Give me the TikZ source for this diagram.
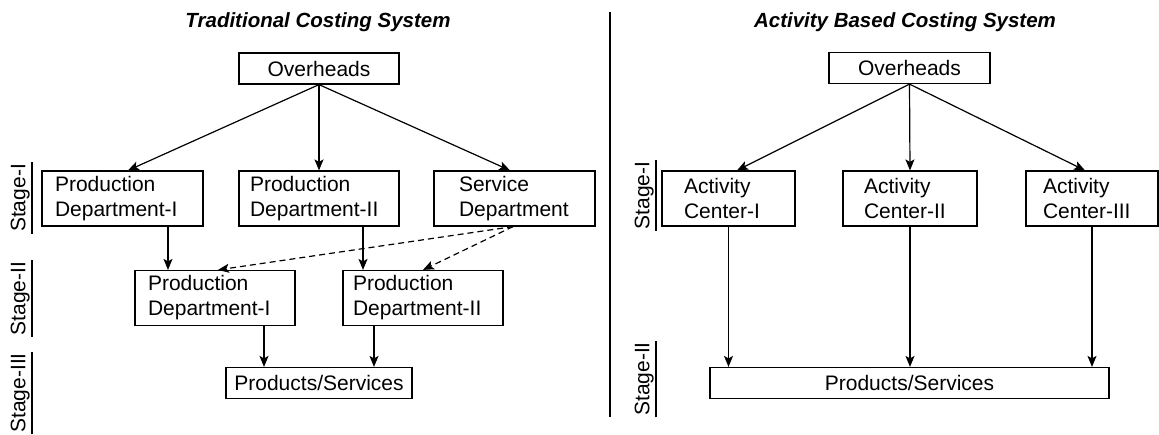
\documentclass[tikz,border=0pt]{standalone}
\usepackage{fontspec}
\setmainfont{Liberation Sans}
\usepackage{tikz}
\usetikzlibrary{arrows.meta}

\tikzset{
    box/.style 2 args={draw, line width=1.2pt, align=left, text width=#1, inner xsep=#2,
        inner ysep=3pt, minimum height=55pt, font=\fontsize{21}{25}\selectfont},
    onebox/.style={draw, line width=1.2pt, inner sep=0pt, minimum width=#1,
        minimum height=31pt, font=\fontsize{21}{25}\selectfont},
    arr/.style={line width=1.2pt, -{Stealth[length=11pt,width=9pt,inset=2.5pt]}},
    stagelbl/.style={rotate=90, anchor=south, inner xsep=1.5pt, inner ysep=2pt,
        font=\fontsize{21}{25}\selectfont},
    heading/.style={font=\fontsize{20.5}{24}\selectfont\bfseries\itshape}
}

\begin{document}
\begin{tikzpicture}[x=1pt, y=-1pt]

    \useasboundingbox (0,0) rectangle (1159,434);

    % Titles and divider
    \node[heading] (tl) at (318,22) {Traditional Costing System};
    \node[heading] (tr) at (905,22) {Activity Based Costing System};
    \draw[line width=1.2pt] (610,12) -- (610,417);

    % Traditional costing system
    \node[onebox=160pt] (ovL) at (319,68.5) {Overheads};
    \node[box={135pt}{13pt}] (pdA) at (122.5,198.5) {Production\\Department-I};
    \node[box={138pt}{11pt}] (pdB) at (319,198.5) {Production\\Department-II};
    \node[box={111pt}{25pt}] (svc) at (514.5,198.5) {Service\\Department};
    \node[box={134pt}{13pt}] (pdC) at (215,298) {Production\\Department-I};
    \node[box={140pt}{10pt}] (pdD) at (423,298) {Production\\Department-II};
    \node[onebox=186pt] (prL) at (319,383) {Products/Services};

    \draw[arr] (ovL.south) -- ([xshift=5.5pt]pdA.north);
    \draw[arr] (ovL.south) -- (pdB.north);
    \draw[arr] (ovL.south) -- ([xshift=-4.5pt]svc.north);
    \draw[arr] ([xshift=45.5pt]pdA.south) -- ([xshift=45.5pt]pdA.south |- pdC.north);
    \draw[arr] ([xshift=44pt]pdB.south) -- ([xshift=44pt]pdB.south |- pdD.north);
    \draw[arr, dashed, dash pattern=on 6pt off 4pt] ([xshift=-1.5pt]svc.south) -- ([xshift=3pt]pdC.north);
    \draw[arr, dashed, dash pattern=on 6pt off 4pt] ([xshift=-1.5pt]svc.south) -- (pdD.north);
    \draw[arr] ([xshift=49pt]pdC.south) -- ([xshift=49pt]pdC.south |- prL.north);
    \draw[arr] ([xshift=-49pt]pdD.south) -- ([xshift=-49pt]pdD.south |- prL.north);

    % Activity based costing system
    \node[onebox=161pt] (ovR) at (909.5,68) {Overheads};
    \node[box={89pt}{22pt}] (acA) at (728.5,198.5) {Activity\\Center-I};
    \node[box={92pt}{21pt}] (acB) at (910,198.5) {Activity\\Center-II};
    \node[box={98pt}{17pt}] (acC) at (1092,198.5) {Activity\\Center-III};
    \node[onebox=399pt] (prR) at (909.5,383) {Products/Services};

    \draw[arr] (ovR.south) -- ([xshift=8.5pt]acA.north);
    \draw[arr] (ovR.south) -- (acB.north);
    \draw[arr] (ovR.south) -- ([xshift=-7pt]acC.north);
    \foreach \n in {acA,acB,acC} {
        \draw[arr] (\n.south) -- (\n.south |- prR.north);
    }

    % Stage labels
    \node[stagelbl] (stL1) at (32,198) {Stage-I};
    \node[stagelbl] (stL2) at (32,298.5) {Stage-II};
    \node[stagelbl] (stL3) at (32,393) {Stage-III};
    \node[stagelbl] (stR1) at (656,195.5) {Stage-I};
    \node[stagelbl] (stR2) at (656,379) {Stage-II};
    \foreach \s in {stL1,stL2,stL3,stR1,stR2} {
        \draw[line width=1.2pt] (\s.south west) -- (\s.south east);
    }

\end{tikzpicture}
\end{document}
